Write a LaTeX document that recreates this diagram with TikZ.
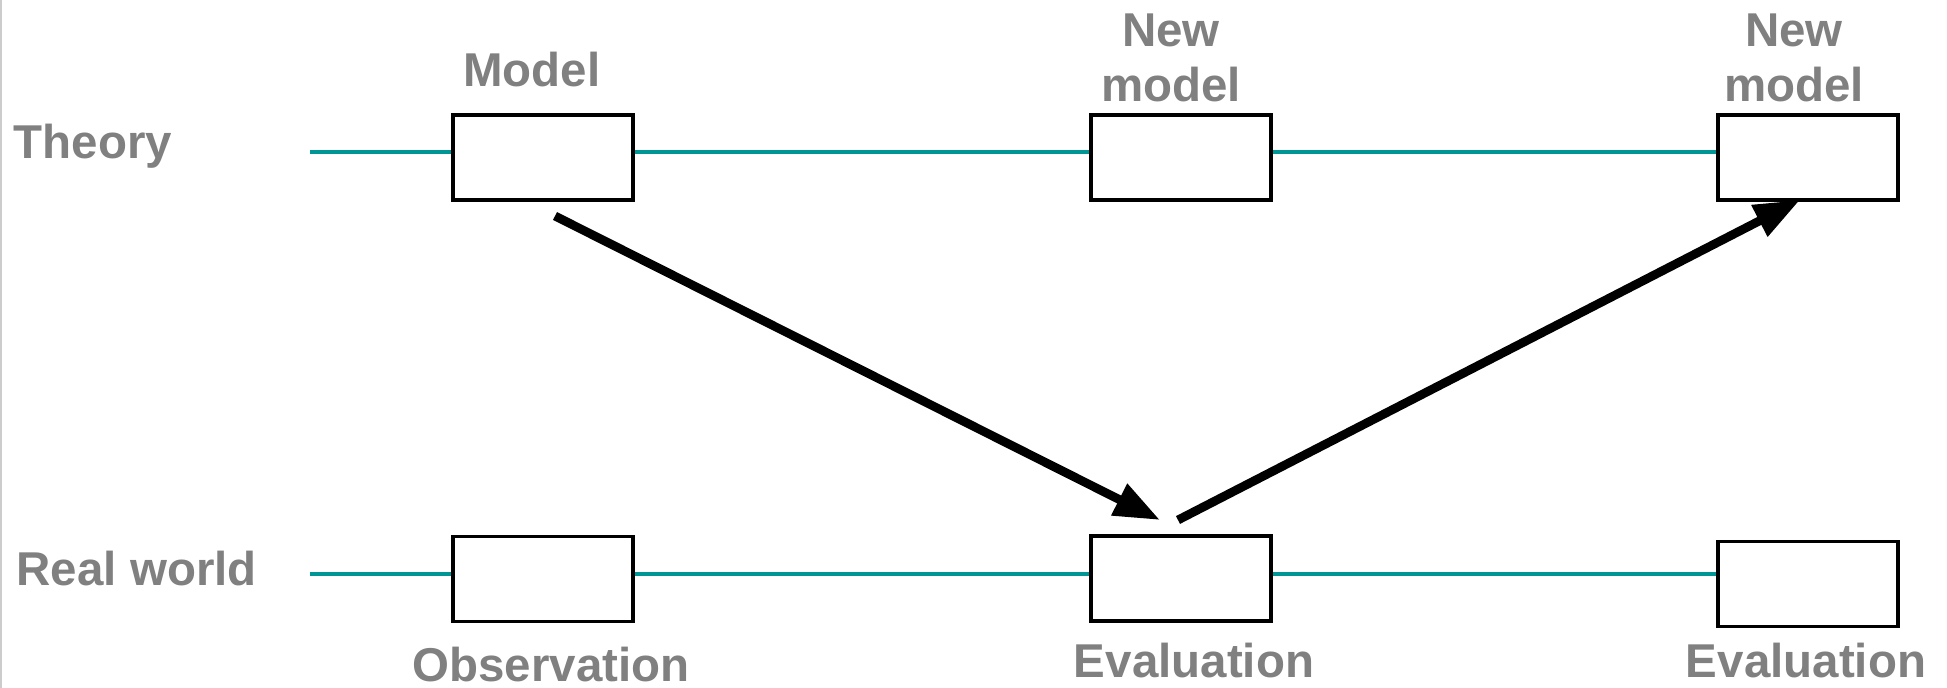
\documentclass[tikz,border=0pt]{standalone}
\usepackage{fontspec}
\setmainfont{Liberation Sans}
\usetikzlibrary{arrows.meta}
\definecolor{lanecol}{RGB}{0,150,150}
\definecolor{labelgray}{RGB}{128,128,128}
\tikzset{
  stagebox/.style={draw,line width=1pt,fill=white,minimum width=1.8cm,minimum height=0.85cm,inner sep=0pt},
  lane/.style={draw=lanecol,line width=1.2pt},
  jump/.style={line width=2.5pt,-{Triangle[length=13pt,width=9.5pt]}},
  lbl/.style={text=labelgray,font=\fontsize{13.5}{15.8}\selectfont\bfseries,inner sep=0pt,anchor=base}
}
\begin{document}
\begin{tikzpicture}[x=0.01cm,y=-0.01cm]
        \useasboundingbox (0,0) rectangle (1947,688);
        \draw[gray!40,line width=0.6pt] (1,0) -- (1,688);

        \coordinate (th) at (310,152);
        \coordinate (rw) at (310,574);
        \coordinate (a1s) at (555,216);
        \coordinate (a1e) at (1160,520);
        \coordinate (a2s) at (1178,520);
        \coordinate (a2e) at (1800,200);

        \node[stagebox] (m1) at (543,157.5) {};
        \node[stagebox] (m2) at (1181,157.5) {};
        \node[stagebox] (m3) at (1808,157.5) {};
        \node[stagebox] (o1) at (543,579) {};
        \node[stagebox] (o2) at (1181,578.5) {};
        \node[stagebox] (o3) at (1808,584) {};

        \draw[lane] (th) -- (th -| m1.west) (th -| m1.east) -- (th -| m2.west) (th -| m2.east) -- (th -| m3.west);
        \draw[lane] (rw) -- (rw -| o1.west) (rw -| o1.east) -- (rw -| o2.west) (rw -| o2.east) -- (rw -| o3.west);

        \draw[jump] (a1s) -- (a1e);
        \draw[jump] (a2s) -- (a2e);

        \node[lbl,anchor=base west] (theory) at (13,159) {Theory};
        \node[lbl,anchor=base west] (realworld) at (16,585) {Real world};
        \node[lbl] (model) at (532,87) {Model};
        \node[lbl,align=center] (newmodel1) at (1171,102) {New\\model};
        \node[lbl,align=center] (newmodel2) at (1794,102) {New\\model};
        \node[lbl] (observation) at (551,682) {Observation};
        \node[lbl] (eval1) at (1194,678) {Evaluation};
        \node[lbl] (eval2) at (1806,678) {Evaluation};
    \end{tikzpicture}
\end{document}
